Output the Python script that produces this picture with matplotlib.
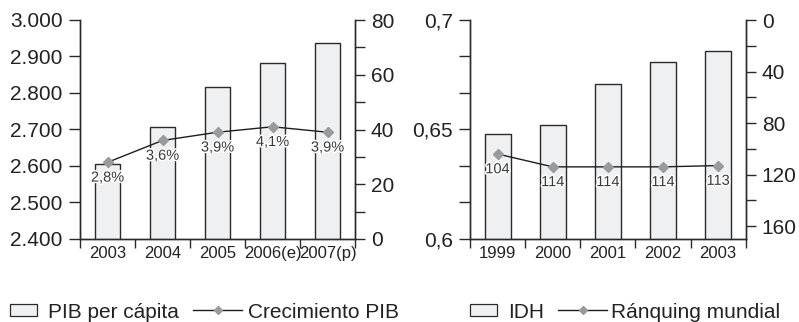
import numpy as np
import matplotlib
matplotlib.use("Agg")
import matplotlib.pyplot as plt
from matplotlib.ticker import FixedLocator, FuncFormatter
from matplotlib.patches import Patch
from matplotlib.lines import Line2D
import matplotlib.patheffects as pe

plt.rcParams['font.family'] = ['Liberation Sans', 'DejaVu Sans']

# --- data ---
years_pib = ['2003', '2004', '2005', '2006(e)', '2007(p)']
pib_per_capita = [2605, 2707, 2816, 2881, 2938]
crecimiento_pib = [2.8, 3.6, 3.9, 4.1, 3.9]

years_idh = ['1999', '2000', '2001', '2002', '2003']
idh = [0.648, 0.652, 0.671, 0.681, 0.686]
ranking = [104, 114, 114, 114, 113]

# --- style ---
BAR_FC = '#eff0f1'
EDGE = '#2a2a2a'
LINE_C = '#1e1e1e'
MARK_C = '#9a9a9a'
TXT = '#222222'
BAR_W = 0.47

W, H = 799, 322
fig = plt.figure(figsize=(W / 100, H / 100), dpi=100)


def px_axes(x0, x1, y_top, y_bot):
    return fig.add_axes([x0 / W, (H - y_bot) / H, (x1 - x0) / W, (y_bot - y_top) / H])


def style_base(ax, axr, cats):
    n = len(cats)
    ax.set_xlim(-0.5, n - 0.5)
    ax.xaxis.set_major_locator(FixedLocator(np.arange(-0.5, n, 1.0)))
    ax.xaxis.set_major_formatter(FuncFormatter(lambda v, p: ''))
    ax.xaxis.set_minor_locator(FixedLocator(np.arange(n)))
    ax.set_xticklabels(cats, minor=True)
    ax.tick_params(axis='x', which='major', direction='out', length=6.5, width=1.0, color=EDGE)
    ax.tick_params(axis='x', which='minor', length=0, pad=5.0, labelsize=12, labelcolor=TXT)
    for a in (ax, axr):
        a.spines['top'].set_visible(False)
        for s in ('left', 'right', 'bottom'):
            a.spines[s].set_color(EDGE)
            a.spines[s].set_linewidth(1.0)
    ax.tick_params(axis='y', which='both', direction='out', length=8, width=1.0,
                   color=EDGE, pad=4.5, labelsize=15, labelcolor=TXT)
    axr.tick_params(axis='y', which='both', direction='out', length=7.5, width=1.0,
                    color=EDGE, pad=4, labelsize=15, labelcolor=TXT)


def value_labels(axr, xs, ys, texts):
    for x, y, t in zip(xs, ys, texts):
        axr.annotate(t, (x, y), xytext=(0, -11), textcoords='offset points',
                     ha='center', va='center', fontsize=10.5, color='#3a3a3a',
                     path_effects=[pe.withStroke(linewidth=2.2, foreground='white')],
                     zorder=5)


# ---------- PIB per cápita / Crecimiento PIB ----------
ax1 = px_axes(80, 355, 20, 239)
ax1r = ax1.twinx()
x1 = np.arange(len(years_pib))
ax1.bar(x1, pib_per_capita, width=BAR_W, color=BAR_FC, edgecolor=EDGE, linewidth=1.0)
ax1.set_ylim(2400, 3000)
ax1.yaxis.set_major_locator(FixedLocator(np.arange(2400, 3001, 100)))
ax1.yaxis.set_major_formatter(FuncFormatter(lambda v, p: f'{int(round(v)):,}'.replace(',', '.')))

ax1r.plot(x1, crecimiento_pib, color=LINE_C, lw=1.0, marker='D', ms=5.2,
          mfc=MARK_C, mec=MARK_C, zorder=3)
ax1r.set_ylim(0, 8)
ax1r.yaxis.set_major_locator(FixedLocator(np.arange(0, 8.01, 2)))
ax1r.yaxis.set_minor_locator(FixedLocator(np.arange(1, 8, 2)))
ax1r.yaxis.set_major_formatter(FuncFormatter(lambda v, p: f'{v * 10:.0f}'))
style_base(ax1, ax1r, years_pib)
value_labels(ax1r, x1, crecimiento_pib, [f'{v:.1f}%'.replace('.', ',') for v in crecimiento_pib])

# ---------- IDH / Ránquing mundial ----------
ax2 = px_axes(470, 745.7, 20, 239)
ax2r = ax2.twinx()
x2 = np.arange(len(years_idh))
ax2.bar(x2, idh, width=BAR_W, color=BAR_FC, edgecolor=EDGE, linewidth=1.0)
ax2.set_ylim(0.6, 0.7)
ax2.yaxis.set_major_locator(FixedLocator([0.6, 0.65, 0.7]))
ax2.yaxis.set_minor_locator(FixedLocator(np.linspace(0.6, 0.7, 7)))
ax2.yaxis.set_major_formatter(FuncFormatter(lambda v, p: f'{v:g}'.replace('.', ',')))

ax2r.plot(x2, ranking, color=LINE_C, lw=1.0, marker='D', ms=5.2,
          mfc=MARK_C, mec=MARK_C, zorder=3)
ax2r.set_ylim(170, 0)
ax2r.yaxis.set_major_locator(FixedLocator(np.arange(0, 161, 40)))
ax2r.yaxis.set_minor_locator(FixedLocator(np.arange(20, 161, 40)))
ax2r.yaxis.set_major_formatter(FuncFormatter(lambda v, p: f'{v:.0f}'))
style_base(ax2, ax2r, years_idh)
value_labels(ax2r, x2, ranking, [str(v) for v in ranking])

# ---------- legends ----------
FS = 15
em = FS * 100 / 72


def add_legend(handle, label, x_px, hlen, htp, hh=0.7):
    fig.legend([handle], [label], loc='center left',
               bbox_to_anchor=(x_px / W, (H - 312) / H), frameon=False,
               borderpad=0, borderaxespad=0, handlelength=hlen / em,
               handleheight=hh, handletextpad=htp / em, fontsize=FS,
               labelcolor=TXT)


bar_handle = Patch(facecolor=BAR_FC, edgecolor=EDGE, linewidth=0.9)
line_handle = Line2D([], [], color=LINE_C, lw=1.0, marker='D', ms=4.2,
                     mfc=MARK_C, mec=MARK_C)

add_legend(bar_handle, 'PIB per cápita', 10, 27, 11, hh=0.53)
add_legend(line_handle, 'Crecimiento PIB', 193, 49, 6)
add_legend(bar_handle, 'IDH', 470, 27, 11, hh=0.53)
add_legend(line_handle, 'Ránquing mundial', 558, 49, 4)

fig.savefig('out.png', dpi=100)
